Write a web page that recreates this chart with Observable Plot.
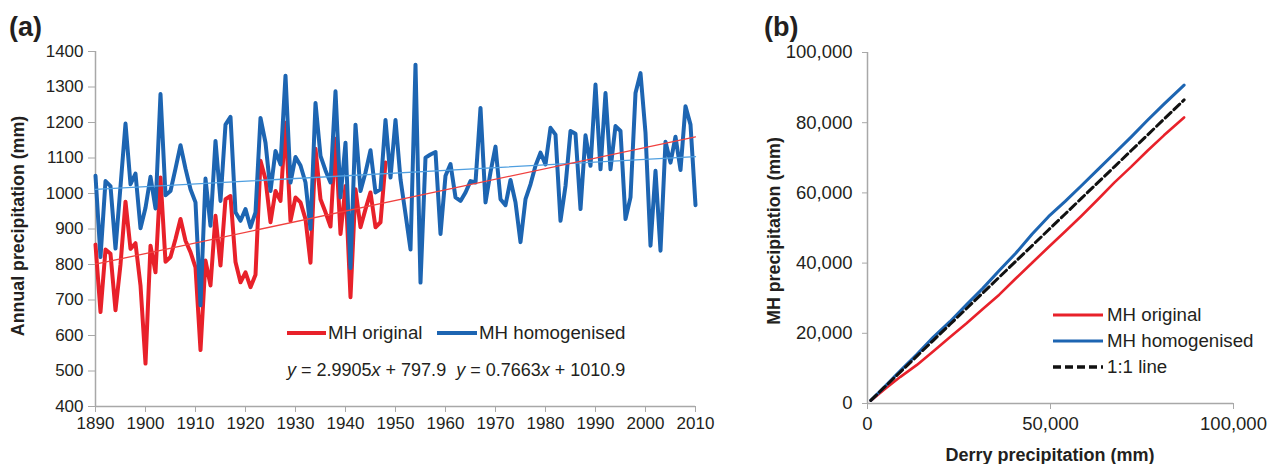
<!DOCTYPE html>
<html><head><meta charset="utf-8">
<script src="https://cdn.jsdelivr.net/npm/d3@7"></script>
<script src="https://cdn.jsdelivr.net/npm/@observablehq/plot@0.6"></script>
<style>
body{margin:0;background:#fff;}
#wrap{position:relative;width:1276px;height:464px;overflow:hidden;font-family:"Liberation Sans",Arial,Helvetica,sans-serif;color:#231f20;}
#wrap svg{position:absolute;top:0;}
.t{position:absolute;white-space:nowrap;transform:translateY(-50%);line-height:1;}
.rot{position:absolute;white-space:nowrap;transform:translate(-50%,-50%) rotate(-90deg);font-weight:bold;line-height:1;}
.sw{position:absolute;transform:translateY(-50%);}
</style></head><body><div id="wrap"></div>
<script>
// ---------- Panel (a) data ----------
const startYear = 1890;
const xTicksA = [1890, 1900, 1910, 1920, 1930, 1940, 1950, 1960, 1970, 1980, 1990, 2000, 2010];
const yTicksA = [400, 500, 600, 700, 800, 900, 1000, 1100, 1200, 1300, 1400];
// MH homogenised annual precipitation (mm), 1890-2010
const homogenised = [
  1050, 821, 1035, 1021, 845, 1020, 1197, 1026, 1056, 902,
  960, 1047, 958, 1280, 995, 1007, 1070, 1136, 1070, 1012,
  975, 685, 1042, 909, 1148, 979, 1194, 1216, 947, 923,
  956, 905, 947, 1213, 1143, 1007, 1120, 1082, 1332, 1031,
  1103, 1079, 1031, 900, 1255, 1106, 1065, 1031, 1288, 989,
  1143, 790, 1194, 1007, 1059, 1122, 1003, 1012, 1207, 1045,
  1207, 1040, 942, 842, 1363, 749, 1101, 1110, 1117, 886,
  1050, 1083, 989, 979, 1003, 1035, 1031, 1241, 975, 1060,
  1132, 984, 967, 1038, 975, 863, 984, 1026, 1078, 1115,
  1082, 1185, 1166, 923, 1021, 1176, 1168, 956, 1164, 1078,
  1307, 1068, 1283, 1068, 1190, 1176, 928, 989, 1283, 1339,
  1171, 853, 1064, 839, 1146, 1087, 1160, 1066, 1246, 1194,
  967
];
// MH original annual precipitation (mm), 1890-1948
const original = [
  856, 666, 842, 830, 671, 800, 977, 844, 860, 741,
  521, 853, 778, 1045, 808, 821, 872, 928, 867, 835,
  792, 559, 811, 741, 937, 797, 984, 993, 807, 750,
  778, 736, 771, 1092, 1040, 919, 1007, 979, 1199, 923,
  989, 975, 928, 805, 1126, 984, 947, 907, 1154, 886,
  1021, 708, 1012, 905, 956, 1003, 905, 919, 1087
];
// Linear trends (x = year index starting at 1)
const trendNames = ["MH original", "MH homogenised"];
const trendSlopes = [2.9905, 0.7663];
const trendIntercepts = [797.9, 1010.9];

// ---------- Panel (b) data: double-mass curves ----------
const xTicksB = [0, 50000, 100000];
const yTicksB = [0, 20000, 40000, 60000, 80000, 100000];
const derryCum = [900, 4500, 9000, 13500, 18000, 22500, 27000, 31500, 36000, 40500, 45000, 49500, 54000, 58500, 63000, 67500, 72000, 76500, 81000, 86500];
const mhHomogCum = [900, 4600, 9400, 14000, 18900, 23300, 28100, 32800, 37900, 42800, 48300, 53300, 57600, 62100, 66700, 71300, 75900, 80700, 85300, 90700];
const mhOrigCum = [800, 3900, 7600, 11000, 14900, 18900, 22800, 26900, 31000, 35600, 40100, 44600, 49000, 53500, 58200, 63000, 67400, 72000, 76400, 81500];
const legendB = ["MH original", "MH homogenised", "1:1 line"];

const RED = "#e8212a", BLUE = "#1d65b2", AXIS = "#a8a8a8", INK = "#231f20";
const FONT = '"Liberation Sans",Arial,Helvetica,sans-serif';

const homogData = homogenised.map((v, i) => ({year: startYear + i, value: v}));
const origData = original.map((v, i) => ({year: startYear + i, value: v}));
const nYears = homogenised.length;
const trendData = trendNames.map((name, k) => [1, nYears].map(idx => ({
  series: name, year: startYear + idx - 1, value: trendIntercepts[k] + trendSlopes[k] * idx
})));

const plotA = Plot.plot({
  width: 740, height: 464,
  marginLeft: 95, marginRight: 45, marginTop: 51, marginBottom: 58,
  x: {domain: [1890, 2010]},
  y: {domain: [400, 1400]},
  style: {fontFamily: FONT, color: INK, background: "transparent", overflow: "visible"},
  marks: [
    Plot.axisY({ticks: yTicksA, tickFormat: d => String(d), tickSize: 7, tickPadding: 5, label: null,
      stroke: AXIS, fill: INK, fontSize: 17}),
    Plot.axisX({ticks: xTicksA, tickFormat: d => String(d), tickSize: 6, tickPadding: 4, label: null,
      stroke: AXIS, fill: INK, fontSize: 17}),
    Plot.ruleX([1890], {stroke: AXIS, strokeWidth: 1.5}),
    Plot.ruleY([400], {stroke: AXIS, strokeWidth: 1.5}),
    Plot.line(origData, {x: "year", y: "value", stroke: RED, strokeWidth: 4, strokeLinejoin: "round"}),
    Plot.line(homogData, {x: "year", y: "value", stroke: BLUE, strokeWidth: 4, strokeLinejoin: "round"}),
    Plot.line(trendData[1], {x: "year", y: "value", stroke: "#4f9fe0", strokeWidth: 1.3}),
    Plot.line(trendData[0], {x: "year", y: "value", stroke: "#f0413f", strokeWidth: 1.3})
  ]
});
plotA.style.left = "0px";

const dmData = derryCum.map((d, i) => ({derry: d, orig: mhOrigCum[i], homog: mhHomogCum[i]}));
const plotB = Plot.plot({
  width: 536, height: 464,
  marginLeft: 127, marginRight: 43, marginTop: 52, marginBottom: 61,
  x: {domain: [0, 100000]},
  y: {domain: [0, 100000]},
  style: {fontFamily: FONT, color: INK, background: "transparent", overflow: "visible"},
  marks: [
    Plot.axisY({ticks: yTicksB, tickFormat: d3.format(","), tickSize: 5, tickPadding: 10, label: null,
      stroke: AXIS, fill: INK, fontSize: 18.5}),
    Plot.axisX({ticks: xTicksB, tickFormat: d3.format(","), tickSize: 6, tickPadding: 7, label: null,
      stroke: AXIS, fill: INK, fontSize: 18.5}),
    Plot.ruleX([0], {stroke: AXIS, strokeWidth: 1.5}),
    Plot.ruleY([0], {stroke: AXIS, strokeWidth: 1.5}),
    Plot.line(dmData, {x: "derry", y: "orig", stroke: RED, strokeWidth: 2.6}),
    Plot.line(dmData, {x: "derry", y: "homog", stroke: BLUE, strokeWidth: 3}),
    Plot.line(dmData, {x: "derry", y: "derry", stroke: "#111", strokeWidth: 3, strokeDasharray: "8,4"})
  ]
});
plotB.style.left = "740px";

const wrap = document.getElementById("wrap");
wrap.appendChild(plotA);
wrap.appendChild(plotB);

function addText(html, left, top, style) {
  const d = document.createElement("div");
  d.className = "t"; d.innerHTML = html;
  d.style.left = left + "px"; d.style.top = top + "px";
  Object.assign(d.style, style || {});
  wrap.appendChild(d); return d;
}
function addRot(text, cx, cy, size) {
  const d = document.createElement("div");
  d.className = "rot"; d.textContent = text;
  d.style.left = cx + "px"; d.style.top = cy + "px"; d.style.fontSize = size + "px";
  wrap.appendChild(d);
}
function addSwatch(left, top, w, color, thick, dash) {
  const s = document.createElementNS("http://www.w3.org/2000/svg", "svg");
  s.setAttribute("width", w); s.setAttribute("height", 8);
  s.setAttribute("class", "sw");
  s.style.left = left + "px"; s.style.top = top + "px"; s.style.position = "absolute";
  s.innerHTML = `<line x1="0" x2="${w}" y1="4" y2="4" stroke="${color}" stroke-width="${thick}"${dash ? ` stroke-dasharray="${dash}"` : ""}/>`;
  wrap.appendChild(s);
}

// Panel labels
addText("(a)", 9, 27, {fontSize: "27px", fontWeight: "bold"});
addText("(b)", 764, 27, {fontSize: "27px", fontWeight: "bold"});

// Axis titles
addRot("Annual precipitation (mm)", 19, 226, 17.8);
addRot("MH precipitation (mm)", 775, 231, 17.8);
const xt = addText("Derry precipitation (mm)", 1050, 455, {fontSize: "18px", fontWeight: "bold"});
xt.style.transform = "translate(-50%,-50%)";

// Panel (a) legend
addSwatch(287, 333, 39, RED, 4);
addText(trendNames[0], 328, 333, {fontSize: "18.7px"});
addSwatch(437, 333, 40, BLUE, 4);
addText(trendNames[1], 479, 333, {fontSize: "18.7px"});

// Trend equations
const eq = k => `<i>y</i> = ${trendSlopes[k]}<i>x</i> + ${trendIntercepts[k]}`;
addText(eq(0) + "&nbsp;&nbsp;" + eq(1), 287, 370, {fontSize: "18px"});

// Panel (b) legend
const swB = [[RED, 3, null], [BLUE, 3, null], ["#111", 3.5, "8,4"]];
legendB.forEach((name, i) => {
  const cy = 315 + i * 26;
  addSwatch(1053, cy, 50, swB[i][0], swB[i][1], swB[i][2]);
  addText(name, 1107, cy, {fontSize: "18.7px"});
});
</script></body></html>
